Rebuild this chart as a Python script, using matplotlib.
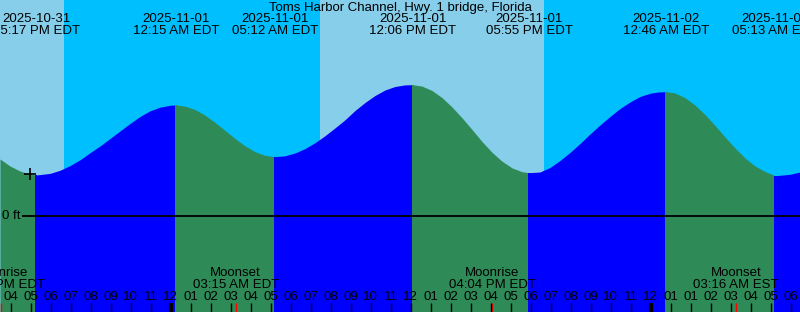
import matplotlib
matplotlib.use("Agg")
import matplotlib.pyplot as plt

plt.rcParams['font.family'] = ['Liberation Sans', 'DejaVu Sans']
plt.rcParams['font.size'] = 9.5

# hours relative to 2025-11-01 00:00 EDT, heights in feet
title = "Toms Harbor Channel, Hwy. 1 bridge, Florida"

curve_hours = [-8.535, -8.035, -7.535, -7.035, -6.72, -6.035, -5.535, -5.035, -4.535, -4.035,
               -3.535, -3.035, -2.535, -2.035, -1.535, -1.035, -0.535, -0.035, 0.25, 0.715,
               1.215, 1.715, 2.215, 2.715, 3.215, 3.715, 4.215, 4.715, 5.20, 5.715,
               6.215, 6.715, 7.215, 7.715, 8.215, 8.715, 9.215, 9.715, 10.215, 10.715,
               11.215, 11.715, 12.10, 12.565, 13.065, 13.565, 14.065, 14.565, 15.065, 15.565,
               16.065, 16.565, 17.065, 17.565, 17.92, 18.465, 18.965, 19.465, 19.965, 20.465,
               20.965, 21.465, 21.965, 22.465, 22.965, 23.465, 23.965, 24.365, 24.77, 25.215,
               25.715, 26.215, 26.715, 27.215, 27.715, 28.215, 28.715, 29.215, 29.715, 29.965,
               30.22, 30.965, 31.465]
curve_feet = [0.57, 0.50, 0.45, 0.417, 0.41, 0.426, 0.457, 0.504, 0.562, 0.632,
              0.70, 0.775, 0.85, 0.925, 0.995, 1.052, 1.088, 1.107, 1.11, 1.099,
              1.065, 1.008, 0.936, 0.856, 0.775, 0.702, 0.643, 0.606, 0.593, 0.602,
              0.63, 0.674, 0.733, 0.803, 0.881, 0.962, 1.055, 1.135, 1.205, 1.26,
              1.295, 1.311, 1.313, 1.299, 1.255, 1.184, 1.09, 0.982, 0.865, 0.745,
              0.637, 0.548, 0.481, 0.443, 0.433, 0.44, 0.485, 0.555, 0.635, 0.725,
              0.82, 0.91, 0.995, 1.075, 1.14, 1.195, 1.227, 1.24, 1.243, 1.23,
              1.183, 1.109, 1.015, 0.905, 0.79, 0.68, 0.58, 0.50, 0.445, 0.425,
              0.403, 0.417, 0.44]

tide_hours = [-6.72, 0.25, 5.20, 12.10, 17.92, 24.77, 30.22]
tide_feet = [0.41, 1.11, 0.593, 1.313, 0.433, 1.243, 0.403]
tide_kind = ["low", "high", "low", "high", "low", "high", "low"]
tide_dates = ["2025-10-31", "2025-11-01", "2025-11-01", "2025-11-01",
              "2025-11-01", "2025-11-02", "2025-11-02"]
tide_times = ["05:17 PM EDT", "12:15 AM EDT", "05:12 AM EDT", "12:06 PM EDT",
              "05:55 PM EDT", "12:46 AM EDT", "05:13 AM EST"]

moon_hours = [-8.48, 3.25, 16.07, 28.27]
moon_names = ["Moonrise", "Moonset", "Moonrise", "Moonset"]
moon_times = ["03:31 PM EDT", "03:15 AM EDT", "04:04 PM EDT", "03:16 AM EST"]

sunset_1, sunrise, sunset_2 = -5.33, 7.47, 18.67

tick_hours = list(range(-8, 32))
tick_labels = ["04", "05", "06", "07", "08", "09", "10", "11",
               "12", "01", "02", "03", "04", "05", "06", "07", "08", "09", "10", "11",
               "12", "01", "02", "03", "04", "05", "06", "07", "08", "09", "10", "11",
               "12", "01", "01", "02", "03", "04", "05", "06"]
midnights = [0, 24]

now_hour, now_feet = -7.04, 0.42

day_col = "#87ceeb"
night_col = "#00bfff"
rise_col = "#0000ff"
fall_col = "#2e8b57"

xmin, xmax = -8.535, 31.465
ymin, ymax = -0.96, 2.16
H = 312.0

fig = plt.figure(figsize=(8, 3.12), dpi=100)
ax = fig.add_axes([0, 0, 1, 1])
ax.set_axis_off()
ax.set_xlim(xmin, xmax)
ax.set_ylim(ymin, ymax)

# sky
ax.axvspan(xmin, sunset_1, color=day_col, lw=0, antialiased=False)
ax.axvspan(sunset_1, sunrise, color=night_col, lw=0, antialiased=False)
ax.axvspan(sunrise, sunset_2, color=day_col, lw=0, antialiased=False)
ax.axvspan(sunset_2, xmax, color=night_col, lw=0, antialiased=False)

# water, coloured by rising / falling
bounds = [xmin - 1] + tide_hours + [xmax + 1]
for i in range(len(bounds) - 1):
    a, b = bounds[i], bounds[i + 1]
    # a stretch ending at a high tide (or after the last low) is rising
    rising = tide_kind[i] == "high" if i < len(tide_kind) else tide_kind[-1] == "low"
    col = rise_col if rising else fall_col
    xs = [t for t in curve_hours if a <= t <= b]
    ys = [h for t, h in zip(curve_hours, curve_feet) if a <= t <= b]
    ax.fill_between(xs, ys, ymin, color=col, lw=0, antialiased=False)
    # close the pixel seam at the start of this stretch
    if i > 0:
        ax.vlines(a, ymin, tide_feet[i - 1], color=col, lw=1.2, antialiased=False)

# zero line
ax.hlines(0, -7.44, xmax, color="black", lw=1.3)
ax.text(-7.5, 0, "0 ft", ha="right", va="center")

ax.plot(now_hour, now_feet, marker="+", color="black", ms=9, mew=1.2)

trans = ax.get_xaxis_transform()

def yf(p):
    return 1 - p / H

# top labels
ax.text(0.5, yf(8), title, transform=ax.transAxes, ha="center", va="center")
for t, d, s in zip(tide_hours, tide_dates, tide_times):
    ax.text(t, yf(19.5), d, transform=trans, ha="center", va="center")
    ax.text(t, yf(31), s, transform=trans, ha="center", va="center")

# moon labels
for t, n, s in zip(moon_hours, moon_names, moon_times):
    ax.text(t, yf(273.5), n, transform=trans, ha="center", va="center")
    ax.text(t, yf(285), s, transform=trans, ha="center", va="center")
    ax.vlines(t, 0, yf(303), transform=trans, color="red", lw=1)

# hour ticks
for t, lab in zip(tick_hours, tick_labels):
    ax.text(t, yf(297.5), lab, transform=trans, ha="center", va="center")
    w = 3 if t in midnights else 1
    ax.vlines(t, 0, yf(303), transform=trans, color="black", lw=w)

fig.savefig("out.png", dpi=100)
